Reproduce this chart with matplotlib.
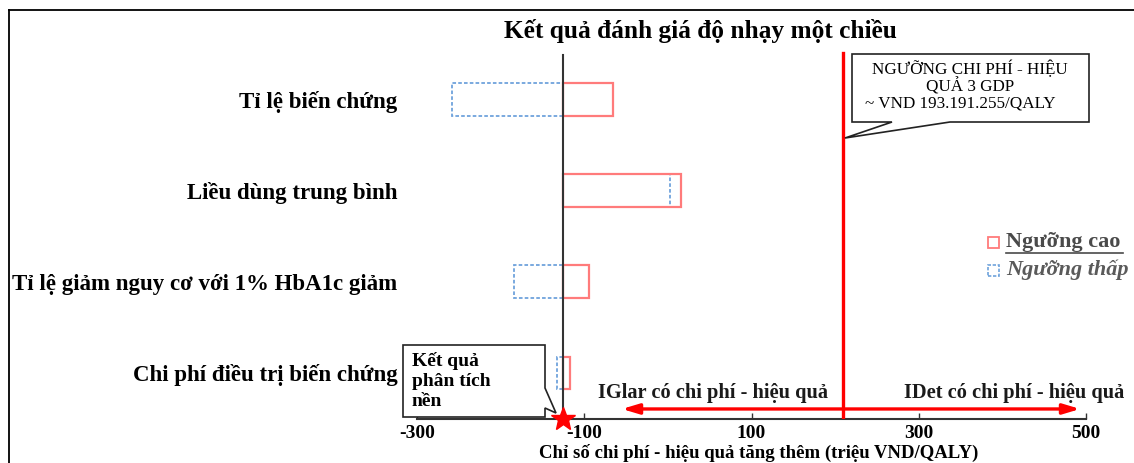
import matplotlib
matplotlib.use("Agg")
import matplotlib.pyplot as plt
from matplotlib.patches import Polygon, Rectangle
from matplotlib.lines import Line2D

# ---- data ----
categories = ["Tỉ lệ biến chứng", "Liều dùng trung bình",
              "Tỉ lệ giảm nguy cơ với 1% HbA1c giảm", "Chi phí điều trị biến chứng"]
base_value = -125
high_values = [-66, 16, -94, -117]     # Ngưỡng cao
low_values = [-258, 2, -184, -132]     # Ngưỡng thấp
threshold = 210
arrow_left_end = -55
arrow_right_end = 493
xticks = [-300, -100, 100, 300, 500]

W, H = 1134, 463
fig = plt.figure(figsize=(W / 100, H / 100), dpi=100)
plt.rcParams['font.family'] = ['Liberation Serif', 'DejaVu Serif']

def fx(x):
    return x / W

def fy(y):
    return 1 - y / H

ax = fig.add_axes([fx(417), fy(419), fx(1086) - fx(417), fy(50) - fy(419)])
ax.set_xlim(-300, 500)
ax.set_ylim(-0.505, 3.544)

ypos = [3, 2, 1, 0]
bh = 0.36
red = "#ff7b7b"
blue = "#6fa3dc"
for y, lo, hi in zip(ypos, low_values, high_values):
    ax.barh(y, lo - base_value, left=base_value, height=bh, facecolor="none",
            edgecolor=blue, linestyle=(0, (2, 1.2)), linewidth=1.3, zorder=3)
    ax.barh(y, hi - base_value, left=base_value, height=bh, facecolor="none",
            edgecolor=red, linewidth=1.6, zorder=3)

ax.axvline(base_value, ymin=0, ymax=0.987, color="#333333", linewidth=1.5, zorder=4)
ax.axvline(threshold, ymin=0, ymax=0.992, color="#ff0000", linewidth=2.4, zorder=4)

# arrows
ay = -0.395
ax.annotate("", xy=(arrow_left_end, ay), xytext=(threshold, ay),
            arrowprops=dict(arrowstyle="-|>,head_length=1.0,head_width=0.3",
                            color="#ff0000", lw=2.4, shrinkA=0, shrinkB=0), zorder=5)
ax.annotate("", xy=(arrow_right_end, ay), xytext=(threshold, ay),
            arrowprops=dict(arrowstyle="-|>,head_length=1.0,head_width=0.3",
                            color="#ff0000", lw=2.4, shrinkA=0, shrinkB=0),
            annotation_clip=False, zorder=5)
fig.text(fx(713), fy(393), "IGlar có chi phí - hiệu quả", ha="center", va="center",
         fontsize=14.7, fontweight="bold", color="#1a1a1a")
fig.text(fx(1014), fy(393), "IDet có chi phí - hiệu quả", ha="center", va="center",
         fontsize=14.7, fontweight="bold", color="#1a1a1a")

# star
ax.plot([base_value], [-0.505], marker="*", markersize=18, color="#ff0000",
        clip_on=False, zorder=6)

# axes styling
for s in ["top", "right", "left"]:
    ax.spines[s].set_visible(False)
ax.spines["bottom"].set_color("#333333")
ax.spines["bottom"].set_linewidth(1.5)
ax.set_xticks(xticks)
ax.set_xticklabels([str(t) for t in xticks], fontsize=14, fontweight="bold")
ax.tick_params(axis="x", direction="in", length=4, width=1, color="#333333", pad=4)
ax.set_yticks(ypos)
ax.set_yticklabels(categories, fontsize=16.5, fontweight="bold")
ax.tick_params(axis="y", length=0, pad=14)
ax.set_xlabel("Chỉ số chi phí - hiệu quả tăng thêm (triệu VND/QALY)", fontsize=13.5,
              fontweight="bold")
ax.xaxis.label.set_va("bottom")
ax.xaxis.set_label_coords(0.51, (419 - 462.5) / 369)

# title
fig.text(fx(700), fy(31), "Kết quả đánh giá độ nhạy một chiều", ha="center", va="center",
         fontsize=18.3, fontweight="bold")

# figure frame (top and left)
fig.add_artist(Line2D([fx(8.5), 1], [fy(9.5), fy(9.5)], color="black", lw=1.3))
fig.add_artist(Line2D([fx(8.5), fx(8.5)], [fy(9.5), 0], color="black", lw=1.3))

# callout: base case
pts = [(403, 345), (545, 345), (545, 388), (556, 413), (545, 408), (545, 417), (403, 417)]
fig.add_artist(Polygon([(fx(x), fy(y)) for x, y in pts], closed=True, facecolor="white",
                       edgecolor="#222222", lw=1.2, zorder=5))
for txt, yy in zip(["Kết quả", "phân tích", "nền"], [361, 382, 402]):
    fig.text(fx(412), fy(yy), txt, ha="left", va="center", fontsize=14,
             fontweight="bold", zorder=6)

# callout: threshold
pts2 = [(852, 54), (1089, 54), (1089, 122), (950, 122), (845, 138), (892, 122), (852, 122)]
fig.add_artist(Polygon([(fx(x), fy(y)) for x, y in pts2], closed=True, facecolor="white",
                       edgecolor="#222222", lw=1.2, zorder=5))
fig.text(fx(970), fy(69), "NGƯỠNG CHI PHÍ - HIỆU", ha="center", va="center", fontsize=12.3, zorder=6)
fig.text(fx(970), fy(87), "QUẢ 3 GDP", ha="center", va="center", fontsize=12.3, zorder=6)
fig.text(fx(960), fy(104), "~ VND 193.191.255/QALY", ha="center", va="center", fontsize=12.3, zorder=6)

# legend (manual)
fig.add_artist(Rectangle((fx(988), fy(248)), 11 / W, 11 / H, facecolor="none",
                         edgecolor=red, lw=1.3))
fig.add_artist(Rectangle((fx(988), fy(276)), 11 / W, 11 / H, facecolor="none",
                         edgecolor=blue, lw=1.2, linestyle=(0, (2, 1))))
fig.text(fx(1006), fy(242), "Ngưỡng cao", ha="left", va="center", fontsize=16,
         fontweight="bold", color="#4a4a4a")
fig.add_artist(Line2D([fx(1006), fx(1123)], [fy(253), fy(253)], color="#4a4a4a", lw=1.2))
fig.text(fx(1006), fy(270), "Ngưỡng thấp", ha="left", va="center", fontsize=16,
         fontweight="bold", fontstyle="italic", color="#5a5a5a")

fig.savefig("out.png", dpi=100)
